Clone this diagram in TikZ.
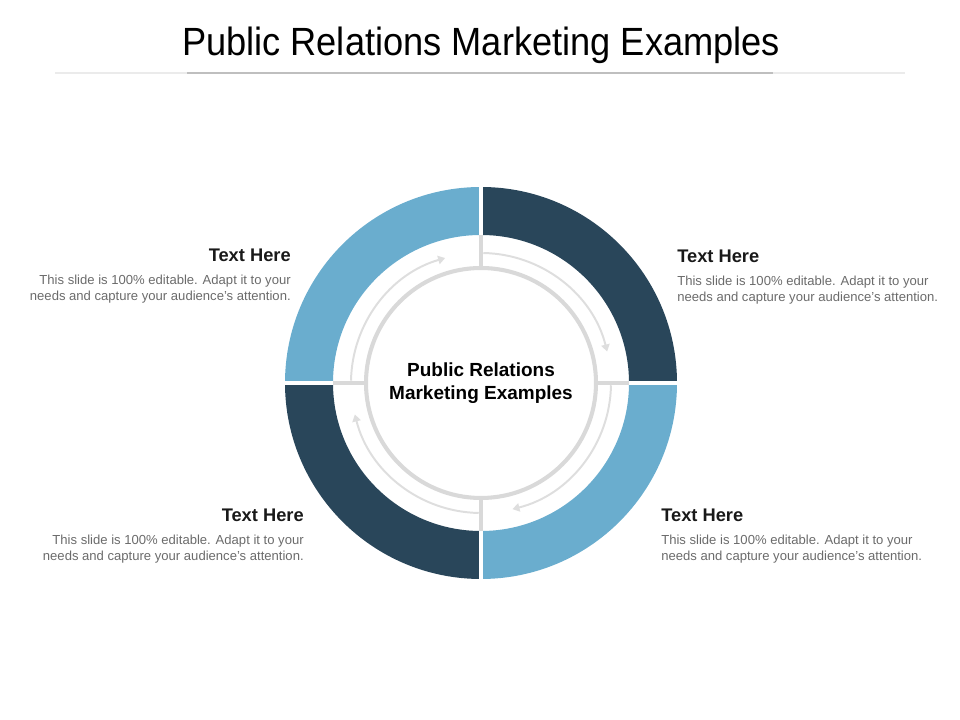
\documentclass[tikz,border=0pt]{standalone}
\usepackage{fontspec}
\setmainfont{Liberation Sans}
\usepackage{tikz}
\usetikzlibrary{arrows.meta, positioning, calc}
\definecolor{lightblue}{HTML}{6AADCE}
\definecolor{darkblue}{HTML}{29465A}
\definecolor{ringgray}{HTML}{D9D9D9}
\definecolor{arcgray}{HTML}{DEDEDE}
\definecolor{bodygray}{HTML}{6B6B6B}
\tikzstyle{head} = [inner sep=0pt, font=\bfseries\fontsize{13}{15}\selectfont, text=black!90]
\tikzstyle{body} = [inner sep=0pt, font=\fontsize{9.3}{11.4}\selectfont, text=bodygray]
\tikzstyle{arrow} = [line width=1.4pt, draw=arcgray, -{Triangle[length=5pt,width=6pt]}]
\tikzstyle{divider} = [line width=2.4pt, draw=ringgray]
\tikzstyle{gap} = [line width=2.8pt, draw=white]

\begin{document}
\begin{tikzpicture}[x=0.025cm, y=0.025cm, node distance=9pt and 0pt]
  \useasboundingbox (0,0) rectangle (960,720);

  % title
  \node (title) at (481,675) {\scalebox{0.92}[1]{\fontsize{28}{32}\selectfont Public Relations Marketing Examples}};
  \draw[black!8, line width=0.8pt] (55,647) -- (905,647);
  \draw[black!25, line width=1.2pt] (187,647) -- (773,647);

  % ring
  \coordinate (c) at (481,337);
  \foreach \a/\col in {0/darkblue, 90/lightblue, 180/darkblue, 270/lightblue}
    \fill[\col] ($(c)+(\a:196)$) arc[start angle=\a, end angle=\a+90, radius=196]
      -- ($(c)+(\a+90:148)$) arc[start angle=\a+90, end angle=\a, radius=148] -- cycle;
  \foreach \a in {0,90,180,270} {
    \draw[gap] ($(c)+(\a:146)$) -- ($(c)+(\a:199)$);
    \draw[divider] ($(c)+(\a:115)$) -- ($(c)+(\a:148)$);
  }
  \draw[ringgray, line width=2.9pt] (c) circle[radius=115];

  % arrows
  \foreach \s/\e in {179/106, 89/14, -1/-76, 269/194}
    \draw[arrow] ($(c)+(\s:130)$) arc[start angle=\s, end angle=\e, radius=130];

  \node (core) at (c) [align=center, font=\bfseries\fontsize{13.5}{16.4}\selectfont] {Public Relations\\Marketing Examples};

  % text blocks
  \node (headTL) [head, anchor=base east] at (291,458) {Text Here};
  \node (bodyTL) [body, align=right, below left=of headTL.south east] {This slide is 100\% editable. Adapt it to your\\needs and capture your audience's attention.};

  \node (headTR) [head, anchor=base west] at (677,457) {Text Here};
  \node (bodyTR) [body, align=left, below right=of headTR.south west] {This slide is 100\% editable. Adapt it to your\\needs and capture your audience's attention.};

  \node (headBL) [head, anchor=base east] at (304,198) {Text Here};
  \node (bodyBL) [body, align=right, below left=of headBL.south east] {This slide is 100\% editable. Adapt it to your\\needs and capture your audience's attention.};

  \node (headBR) [head, anchor=base west] at (661,198) {Text Here};
  \node (bodyBR) [body, align=left, below right=of headBR.south west] {This slide is 100\% editable. Adapt it to your\\needs and capture your audience's attention.};
\end{tikzpicture}
\end{document}
